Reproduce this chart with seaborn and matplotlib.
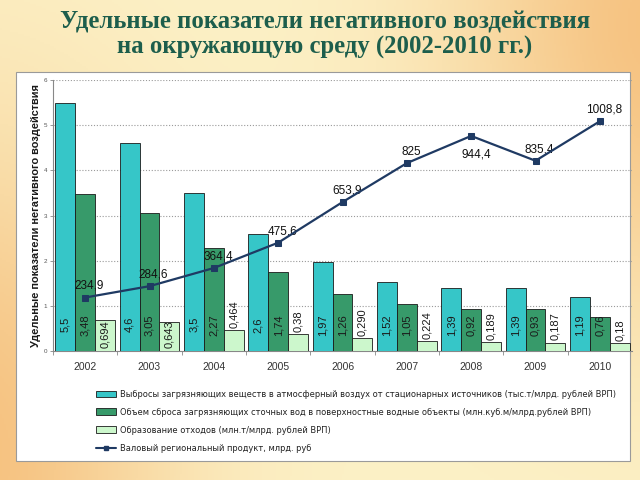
import numpy as np
import pandas as pd
import matplotlib
matplotlib.use("Agg")
import matplotlib.pyplot as plt
from matplotlib.patches import Rectangle
from matplotlib.lines import Line2D
from matplotlib.patches import Patch
from matplotlib import font_manager
import seaborn as sns

# ---------------- data ----------------
years = ["2002", "2003", "2004", "2005", "2006", "2007", "2008", "2009", "2010"]
air = [5.5, 4.6, 3.5, 2.6, 1.97, 1.52, 1.39, 1.39, 1.19]
water = [3.48, 3.05, 2.27, 1.74, 1.26, 1.05, 0.92, 0.93, 0.76]
waste = [0.694, 0.643, 0.464, 0.38, 0.290, 0.224, 0.189, 0.187, 0.18]
air_labels = ["5,5", "4,6", "3,5", "2,6", "1,97", "1,52", "1,39", "1,39", "1,19"]
water_labels = ["3,48", "3,05", "2,27", "1,74", "1,26", "1,05", "0,92", "0,93", "0,76"]
waste_labels = ["0,694", "0,643", "0,464", "0,38", "0,290", "0,224", "0,189", "0,187", "0,18"]
gdp = [234.9, 284.6, 364.4, 475.6, 653.9, 825, 944.4, 835.4, 1008.8]

series_names = [
    "Выбросы загрязняющих веществ в атмосферный воздух от стационарных источников (тыс.т/млрд. рублей ВРП)",
    "Объем сброса загрязняющих сточных вод в поверхностные водные объекты (млн.куб.м/млрд.рублей ВРП)",
    "Образование отходов (млн.т/млрд. рублей ВРП)",
]
line_name = "Валовый региональный продукт, млрд. руб"
title = "Удельные показатели негативного воздействия\nна окружающую среду (2002-2010 гг.)"
ylabel = "Удельные показатели негативного воздействия"

colors = ["#36C6C8", "#379A6A", "#CCF7CC"]
line_color = "#1F3A63"

df = pd.DataFrame({
    "year": years * 3,
    "series": [series_names[0]] * 9 + [series_names[1]] * 9 + [series_names[2]] * 9,
    "value": air + water + waste,
})

sns.set_theme(style="white")
plt.rcParams["font.family"] = ["Liberation Sans", "DejaVu Sans"]

# narrow font for the legend
avail = {f.name for f in font_manager.fontManager.ttflist}
if "Liberation Sans Narrow" in avail:
    leg_prop = font_manager.FontProperties(family="Liberation Sans Narrow", size=7.6)
else:
    leg_prop = font_manager.FontProperties(family="DejaVu Sans", stretch="condensed", size=6.7)

fig = plt.figure(figsize=(6.4, 4.8), dpi=100)

# background gradient
bg = fig.add_axes([0, 0, 1, 1], zorder=-10)
H, W = 240, 320
yy, xx = np.mgrid[0:H, 0:W]
xn, yn = xx / W, yy / H
pale = np.array([252, 242, 200]) / 255
orange = np.array([246, 194, 128]) / 255
w1 = np.exp(-(((xn - 1.05) ** 2) / 0.12 + ((yn - 0.05) ** 2) / 0.35))
w2 = np.exp(-(((xn + 0.05) ** 2) / 0.10 + ((yn - 0.95) ** 2) / 0.45))
w = np.clip(w1 + w2, 0, 1)[..., None]
img = pale * (1 - w) + orange * w
bg.imshow(img, aspect="auto", extent=[0, 1, 0, 1], origin="upper")
bg.set_xlim(0, 1); bg.set_ylim(0, 1)
bg.axis("off")

# white panel
fig.patches.append(Rectangle((16 / 640, 19 / 480), 614 / 640, 389 / 480,
                             transform=fig.transFigure, facecolor="white",
                             edgecolor="#9A9A9A", linewidth=0.8, zorder=-5))

fig.text(0.508, 1 - 35 / 480, title, ha="center", va="center", fontsize=17.8,
         fontweight="bold", family=["Liberation Serif", "DejaVu Serif"],
         color="#1D5E4C", linespacing=1.1)

ax = fig.add_axes([53 / 640, 129 / 480, 579 / 640, 271 / 480])
ax.set_facecolor("none")
sns.barplot(data=df, x="year", y="value", hue="series", order=years,
            hue_order=series_names, palette=colors, width=0.93, gap=0,
            saturation=1, edgecolor="#1a1a1a", linewidth=0.6, ax=ax,
            legend=False, zorder=3)
ax.set_xlim(-0.5, 8.5)
ax.set_ylim(0, 6)
ax.set_yticks(range(7))
ax.tick_params(axis="y", labelsize=4.5, labelcolor="#555555", length=2,
               color="#888888", width=0.6, pad=2, left=True)
ax.set_xticks(range(9))
ax.set_xticklabels(years)
ax.set_xticks(np.arange(9) - 0.5, minor=True)
ax.tick_params(axis="x", which="major", length=0, labelsize=7.5,
               labelcolor="#333333", pad=8)
ax.tick_params(axis="x", which="minor", length=3, color="#888888", width=0.6,
               bottom=True)
ax.grid(axis="y", color="#9A9A9A", linestyle=(0, (1, 1.6)), linewidth=0.8)
ax.set_axisbelow(True)
for s in ["top", "right"]:
    ax.spines[s].set_visible(False)
for s in ["left", "bottom"]:
    ax.spines[s].set_color("#888888")
    ax.spines[s].set_linewidth(0.8)
ax.set_xlabel("")
ax.set_ylabel(ylabel, fontsize=7.9, fontweight="bold", color="#1a1a1a",
              labelpad=2)

# bar labels
label_sets = [air_labels, water_labels, waste_labels]
for ci, cont in enumerate(ax.containers):
    for bar, lab in zip(cont, label_sets[ci]):
        xc = bar.get_x() + bar.get_width() / 2
        h = bar.get_height()
        if ci < 2:
            ax.text(xc, 0.58, lab, rotation=90, ha="center", va="center",
                    fontsize=8, color="#1a1a1a", zorder=5)
        else:
            if h < 0.5:
                ax.text(xc, h + 0.05, lab, rotation=90, ha="center", va="bottom",
                        fontsize=8, color="#1a1a1a", zorder=5)
            else:
                ax.text(xc, 0.06, lab, rotation=90, ha="center", va="bottom",
                        fontsize=8, color="#1a1a1a", zorder=5)

# GDP line on secondary axis
ax2 = ax.twinx()
ax2.set_ylim(0, 1190)
xpos = np.arange(len(years))
sns.lineplot(x=xpos, y=gdp, ax=ax2, color=line_color, marker="s",
             markersize=4.5, linewidth=1.6, markeredgecolor=line_color,
             legend=False, zorder=6)
ax2.set_xlim(-0.5, 8.5)
ax2.axis("off")
for i, v in enumerate(gdp):
    txt = f"{v:g}".replace(".", ",")
    peak = 0 < i < len(gdp) - 1 and v > gdp[i - 1] and v > gdp[i + 1]
    if peak:
        ax2.annotate(txt, (i, v), xytext=(4, -9), textcoords="offset points",
                     ha="center", va="top", fontsize=8.5, color="#111111")
    else:
        ax2.annotate(txt, (i, v), xytext=(3, 4), textcoords="offset points",
                     ha="center", va="bottom", fontsize=8.5, color="#111111")

# legend
handles = [Patch(facecolor=c, edgecolor="#1a1a1a", linewidth=0.6) for c in colors]
handles.append(Line2D([0], [0], color=line_color, marker="s", markersize=3.5,
                      linewidth=1.5))
labels = series_names + [line_name]
leg = fig.legend(handles, labels, loc="upper left",
                 bbox_to_anchor=(96 / 640, (480 - 390) / 480),
                 frameon=False, prop=leg_prop, labelspacing=0.95,
                 handlelength=2.2, handleheight=0.7, handletextpad=0.4,
                 borderaxespad=0, borderpad=0)
for t in leg.get_texts():
    t.set_color("#222222")

fig.savefig("out.png", dpi=100)
